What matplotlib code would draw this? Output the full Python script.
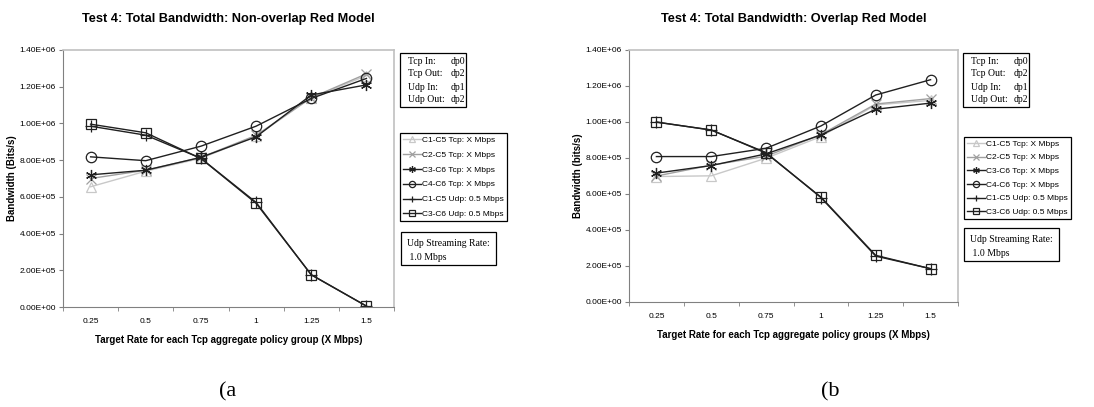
import matplotlib.pyplot as plt
from matplotlib.patches import Rectangle
import numpy as np

W, H = 1094, 407

# data
rates = ["0.25", "0.5", "0.75", "1", "1.25", "1.5"]
names = ["C1-C5 Tcp: X Mbps", "C2-C5 Tcp: X Mbps", "C3-C6 Tcp: X Mbps",
         "C4-C6 Tcp: X Mbps", "C1-C5 Udp: 0.5 Mbps", "C3-C6 Udp: 0.5 Mbps"]

# (a) non-overlap
a_c1c5_tcp = [655e3, 740e3, 810e3, 930e3, 1.140e6, 1.260e6]
a_c2c5_tcp = [700e3, 745e3, 815e3, 935e3, 1.140e6, 1.270e6]
a_c3c6_tcp = [720e3, 745e3, 815e3, 927e3, 1.155e6, 1.210e6]
a_c4c6_tcp = [818e3, 797e3, 876e3, 985e3, 1.136e6, 1.245e6]
a_c1c5_udp = [985e3, 936e3, 810e3, 570e3, 175e3, 5e3]
a_c3c6_udp = [996e3, 949e3, 809e3, 565e3, 176e3, 5e3]

# (b) overlap
b_c1c5_tcp = [697e3, 701e3, 799e3, 919e3, 1.095e6, 1.120e6]
b_c2c5_tcp = [700e3, 760e3, 810e3, 930e3, 1.100e6, 1.130e6]
b_c3c6_tcp = [716e3, 758e3, 823e3, 928e3, 1.071e6, 1.105e6]
b_c4c6_tcp = [808e3, 808e3, 854e3, 978e3, 1.150e6, 1.235e6]
b_c1c5_udp = [1.000e6, 955e3, 830e3, 580e3, 255e3, 185e3]
b_c3c6_udp = [999e3, 956e3, 827e3, 583e3, 259e3, 185e3]

yticks = np.arange(0, 1.41e6, 2e5)
ylabels = ["0.00E+00", "2.00E+05", "4.00E+05", "6.00E+05", "8.00E+05",
           "1.00E+06", "1.20E+06", "1.40E+06"]

# line styles per series
styles = [
    dict(color="#c8c8c8", marker="^", mfc="none", mec="#c8c8c8", ms=7),
    dict(color="#a0a0a0", marker="x", mfc="none", mec="#a0a0a0", ms=7),
    dict(color="#202020", marker=(6, 2, 0), mec="#202020", ms=8),
    dict(color="#202020", marker="o", mfc="none", mec="#202020", ms=7.5),
    dict(color="#202020", marker="+", mec="#202020", ms=8),
    dict(color="#202020", marker="s", mfc="none", mec="#202020", ms=7),
]

sans = ["Liberation Sans", "DejaVu Sans"]
serif = ["Liberation Serif", "DejaVu Serif"]
plt.rcParams['font.family'] = sans


def fx(px):
    return px / W


def fy(py):
    return 1 - py / H


def rect(l, t, r, b):
    return [fx(l), fy(b), fx(r) - fx(l), fy(t) - fy(b)]


fig = plt.figure(figsize=(W / 100, H / 100), dpi=100)


def panel(box, series, title, ylab, xlab, tag, tagx, legx, legy, legsp,
          infox, infoy, udpy):
    ax = fig.add_axes(rect(*box))
    x = np.arange(len(rates))
    lines = []
    for s, name, st in zip(series, names, styles):
        ln, = ax.plot(x, s, lw=1, mew=0.9, label=name, **st)
        lines.append(ln)
    ax.set_xlim(-0.5, len(rates) - 0.5)
    ax.set_ylim(0, 1.4e6)
    ax.set_yticks(yticks)
    ax.set_yticklabels(ylabels, fontsize=6)
    ax.set_xticks(x)
    ax.set_xticklabels(rates, fontsize=6)
    ax.set_xticks(np.arange(-0.5, len(rates)), minor=True)
    ax.tick_params(axis="x", which="major", length=0, pad=8)
    ax.tick_params(axis="x", which="minor", length=3, color="#808080", direction="out")
    ax.tick_params(axis="y", length=3, color="#808080", pad=2)
    for sp in ["left", "bottom"]:
        ax.spines[sp].set_color("#808080")
    for sp in ["top", "right"]:
        ax.spines[sp].set_color("#c0c0c0")
        ax.spines[sp].set_linewidth(1.2)
    ax.set_ylabel(ylab, fontsize=7, fontweight="bold", labelpad=2)
    ax.set_xlabel(xlab, fontsize=7, fontweight="bold", labelpad=7)
    ax.set_title(title, fontsize=9.2, fontweight="bold", pad=20)
    leg = ax.legend(handles=lines, loc="upper left",
                    bbox_to_anchor=(fx(legx), fy(legy)), bbox_transform=fig.transFigure,
                    fontsize=6, frameon=True, fancybox=False, framealpha=1,
                    edgecolor="black", handlelength=2.2, handletextpad=0.1,
                    labelspacing=legsp, borderpad=0.35, borderaxespad=0,
                    markerscale=0.6)
    leg.get_frame().set_linewidth(0.9)

    # info box with dp settings
    fig.patches.append(Rectangle((fx(infox), fy(infoy + 54)), fx(66), 54 / H,
                                 transform=fig.transFigure, fill=False,
                                 edgecolor="black", lw=0.9))
    rows = [("Tcp In:", "dp0"), ("Tcp Out:", "dp2"), ("Udp In:", "dp1"), ("Udp Out:", "dp2")]
    for i, (k, v) in enumerate(rows):
        yy = infoy + 8 + i * 13
        fig.text(fx(infox + 8), fy(yy), k, family=serif, fontsize=7, va="center")
        fig.text(fx(infox + 51), fy(yy), v, family=serif, fontsize=7, va="center")

    # streaming rate box
    fig.patches.append(Rectangle((fx(infox + 1), fy(udpy + 33)), fx(95), 33 / H,
                                 transform=fig.transFigure, fill=False,
                                 edgecolor="black", lw=0.9))
    fig.text(fx(infox + 7), fy(udpy + 11), "Udp Streaming Rate:", family=serif,
             fontsize=7, va="center")
    fig.text(fx(infox + 7), fy(udpy + 25), " 1.0 Mbps", family=serif,
             fontsize=7, va="center")

    fig.text(fx(tagx), fy(392), tag, family=serif, fontsize=16, ha="center", va="center")
    return ax


panel((63, 50, 394, 307),
      [a_c1c5_tcp, a_c2c5_tcp, a_c3c6_tcp, a_c4c6_tcp, a_c1c5_udp, a_c3c6_udp],
      "Test 4: Total Bandwidth: Non-overlap Red Model", "Bandwidth (Bits/s)",
      "Target Rate for each Tcp aggregate policy group (X Mbps)",
      "(a", 228, 400, 133, 0.85, 400, 53, 232)

panel((629, 50, 958, 302),
      [b_c1c5_tcp, b_c2c5_tcp, b_c3c6_tcp, b_c4c6_tcp, b_c1c5_udp, b_c3c6_udp],
      "Test 4: Total Bandwidth: Overlap Red Model", "Bandwidth (bits/s)",
      "Target Rate for each Tcp aggregate policy groups (X Mbps)",
      "(b", 830, 964, 137, 0.7, 963, 53, 228)

fig.savefig("out.png", dpi=100)
